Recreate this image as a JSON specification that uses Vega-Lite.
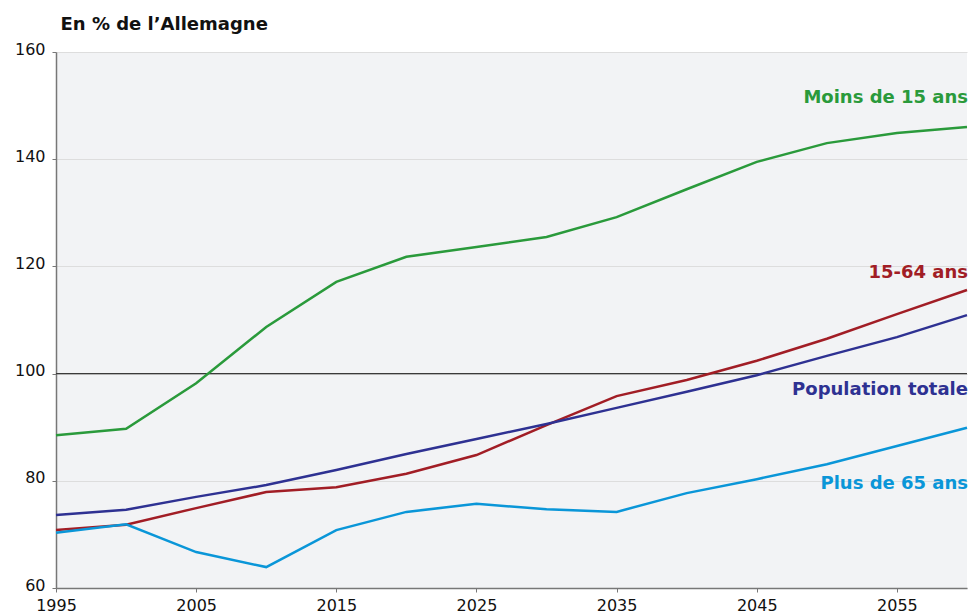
{
  "$schema": "https://vega.github.io/schema/vega-lite/v6.json",
  "autosize": "none",
  "width": 911,
  "height": 536,
  "padding": {"left": 56, "top": 52, "right": 1, "bottom": 27},
  "background": "white",
  "config": {
    "view": {"fill": "#f2f3f5", "stroke": null},
    "font": "DejaVu Sans"
  },
  "datasets": {
    "series": [
      {"serie": "Moins de 15 ans", "annee": 1995, "valeur": 88.5},
      {"serie": "Moins de 15 ans", "annee": 2000, "valeur": 89.7},
      {"serie": "Moins de 15 ans", "annee": 2005, "valeur": 98.2},
      {"serie": "Moins de 15 ans", "annee": 2010, "valeur": 108.7},
      {"serie": "Moins de 15 ans", "annee": 2015, "valeur": 117.1},
      {"serie": "Moins de 15 ans", "annee": 2020, "valeur": 121.8},
      {"serie": "Moins de 15 ans", "annee": 2025, "valeur": 123.6},
      {"serie": "Moins de 15 ans", "annee": 2030, "valeur": 125.5},
      {"serie": "Moins de 15 ans", "annee": 2035, "valeur": 129.2},
      {"serie": "Moins de 15 ans", "annee": 2040, "valeur": 134.4},
      {"serie": "Moins de 15 ans", "annee": 2045, "valeur": 139.5},
      {"serie": "Moins de 15 ans", "annee": 2050, "valeur": 143.0},
      {"serie": "Moins de 15 ans", "annee": 2055, "valeur": 144.9},
      {"serie": "Moins de 15 ans", "annee": 2060, "valeur": 146.0},
      {"serie": "15-64 ans", "annee": 1995, "valeur": 70.8},
      {"serie": "15-64 ans", "annee": 2000, "valeur": 71.8},
      {"serie": "15-64 ans", "annee": 2005, "valeur": 74.9},
      {"serie": "15-64 ans", "annee": 2010, "valeur": 77.9},
      {"serie": "15-64 ans", "annee": 2015, "valeur": 78.8},
      {"serie": "15-64 ans", "annee": 2020, "valeur": 81.3},
      {"serie": "15-64 ans", "annee": 2025, "valeur": 84.8},
      {"serie": "15-64 ans", "annee": 2030, "valeur": 90.4},
      {"serie": "15-64 ans", "annee": 2035, "valeur": 95.8},
      {"serie": "15-64 ans", "annee": 2040, "valeur": 98.8},
      {"serie": "15-64 ans", "annee": 2045, "valeur": 102.4},
      {"serie": "15-64 ans", "annee": 2050, "valeur": 106.5},
      {"serie": "15-64 ans", "annee": 2055, "valeur": 111.1},
      {"serie": "15-64 ans", "annee": 2060, "valeur": 115.6},
      {"serie": "Population totale", "annee": 1995, "valeur": 73.6},
      {"serie": "Population totale", "annee": 2000, "valeur": 74.6},
      {"serie": "Population totale", "annee": 2005, "valeur": 77.0},
      {"serie": "Population totale", "annee": 2010, "valeur": 79.2},
      {"serie": "Population totale", "annee": 2015, "valeur": 82.0},
      {"serie": "Population totale", "annee": 2020, "valeur": 85.0},
      {"serie": "Population totale", "annee": 2025, "valeur": 87.8},
      {"serie": "Population totale", "annee": 2030, "valeur": 90.6},
      {"serie": "Population totale", "annee": 2035, "valeur": 93.6},
      {"serie": "Population totale", "annee": 2040, "valeur": 96.6},
      {"serie": "Population totale", "annee": 2045, "valeur": 99.7},
      {"serie": "Population totale", "annee": 2050, "valeur": 103.3},
      {"serie": "Population totale", "annee": 2055, "valeur": 106.8},
      {"serie": "Population totale", "annee": 2060, "valeur": 110.9},
      {"serie": "Plus de 65 ans", "annee": 1995, "valeur": 70.3},
      {"serie": "Plus de 65 ans", "annee": 2000, "valeur": 71.9},
      {"serie": "Plus de 65 ans", "annee": 2005, "valeur": 66.7},
      {"serie": "Plus de 65 ans", "annee": 2010, "valeur": 63.9},
      {"serie": "Plus de 65 ans", "annee": 2015, "valeur": 70.8},
      {"serie": "Plus de 65 ans", "annee": 2020, "valeur": 74.2},
      {"serie": "Plus de 65 ans", "annee": 2025, "valeur": 75.7},
      {"serie": "Plus de 65 ans", "annee": 2030, "valeur": 74.7},
      {"serie": "Plus de 65 ans", "annee": 2035, "valeur": 74.2},
      {"serie": "Plus de 65 ans", "annee": 2040, "valeur": 77.7},
      {"serie": "Plus de 65 ans", "annee": 2045, "valeur": 80.3},
      {"serie": "Plus de 65 ans", "annee": 2050, "valeur": 83.1},
      {"serie": "Plus de 65 ans", "annee": 2055, "valeur": 86.5},
      {"serie": "Plus de 65 ans", "annee": 2060, "valeur": 89.9}
    ],
    "etiquettes": [
      {"serie": "Moins de 15 ans", "annee": 2060, "valeur": 151.5},
      {"serie": "15-64 ans", "annee": 2060, "valeur": 118.8},
      {"serie": "Population totale", "annee": 2060, "valeur": 97.0},
      {"serie": "Plus de 65 ans", "annee": 2060, "valeur": 79.4}
    ]
  },
  "layer": [
    {
      "data": {"values": [{"v": 100}]},
      "mark": {"type": "rule", "color": "#3a3a3a", "strokeWidth": 1.2},
      "encoding": {"y": {"field": "v", "type": "quantitative", "scale": {"domain": [60, 160], "nice": false}}}
    },
    {
      "data": {"name": "series"},
      "mark": {"type": "line", "strokeWidth": 2.5},
      "encoding": {
        "x": {
          "field": "annee", "type": "quantitative",
          "scale": {"domain": [1995, 2060], "nice": false, "zero": false},
          "axis": {
            "values": [1995, 2005, 2015, 2025, 2035, 2045, 2055],
            "format": "d", "title": null, "grid": false,
            "domainColor": "#777777", "domainWidth": 1.5,
            "tickColor": "#777777", "tickSize": 4,
            "labelFontSize": 16, "labelColor": "#111111", "labelPadding": 5,
            "labelFlush": false
          }
        },
        "y": {
          "field": "valeur", "type": "quantitative",
          "scale": {"domain": [60, 160], "nice": false, "zero": false},
          "axis": {
            "values": [60, 80, 100, 120, 140, 160],
            "title": "En % de l’Allemagne",
            "titleAngle": 0, "titleAlign": "left", "titleBaseline": "alphabetic",
            "titleX": 4, "titleY": -23, "titleFontSize": 18, "titleFontWeight": "bold", "titleColor": "#111111",
            "grid": true, "gridColor": "#dddddd", "gridWidth": 1,
            "domainColor": "#777777", "domainWidth": 1.5,
            "tickColor": "#777777", "tickSize": 4,
            "labelFontSize": 16, "labelColor": "#111111", "labelPadding": 7,
            "labelOffset": -3
          }
        },
        "color": {
          "field": "serie", "type": "nominal",
          "scale": {
            "domain": ["Moins de 15 ans", "15-64 ans", "Population totale", "Plus de 65 ans"],
            "range": ["#2a9a3b", "#a11d25", "#2e3192", "#0a96d8"]
          },
          "legend": null
        }
      }
    },
    {
      "data": {"name": "etiquettes"},
      "mark": {"type": "text", "align": "right", "baseline": "middle", "fontSize": 18, "fontWeight": "bold", "dx": 1},
      "encoding": {
        "x": {"field": "annee", "type": "quantitative"},
        "y": {"field": "valeur", "type": "quantitative"},
        "text": {"field": "serie"},
        "color": {"field": "serie", "type": "nominal", "legend": null}
      }
    }
  ]
}
